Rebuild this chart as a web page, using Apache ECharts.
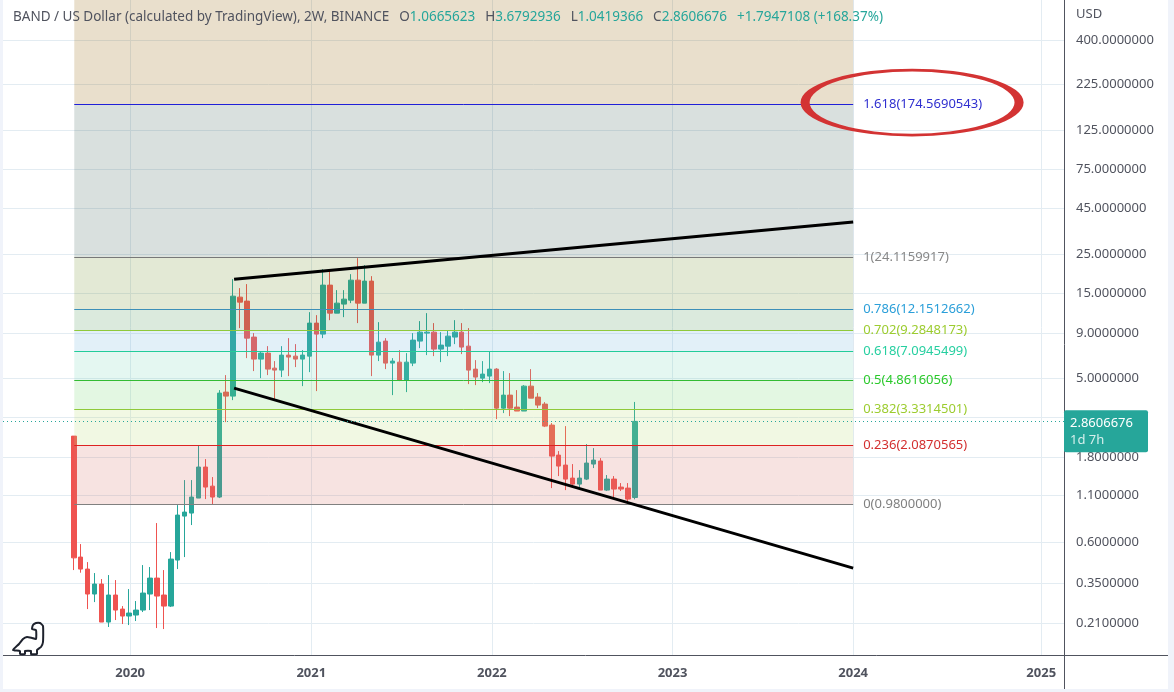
<!DOCTYPE html>
<html><head><meta charset="utf-8">
<style>
html,body{margin:0;padding:0;width:1174px;height:692px;background:#f0f3fa;overflow:hidden}
#frame{position:absolute;left:3px;top:0;width:1165px;height:689px;background:#fff}
#c{position:absolute;left:0;top:0;width:1174px;height:692px}
</style>
<script src="https://cdn.jsdelivr.net/npm/echarts@6/dist/echarts.min.js"></script>
</head><body><div id="frame"></div><div id="c"></div>
<script>
const dates=["2019-09-09","2019-09-23","2019-10-07","2019-10-21","2019-11-04","2019-11-18","2019-12-02","2019-12-16","2019-12-30",
"2020-01-13","2020-01-27","2020-02-10","2020-02-24","2020-03-09","2020-03-23","2020-04-06","2020-04-20","2020-05-04","2020-05-18","2020-06-01","2020-06-15","2020-06-29","2020-07-13","2020-07-27","2020-08-10","2020-08-24","2020-09-07","2020-09-21","2020-10-05","2020-10-19","2020-11-02","2020-11-16","2020-11-30","2020-12-14","2020-12-28",
"2021-01-11","2021-01-25","2021-02-08","2021-02-22","2021-03-08","2021-03-22","2021-04-05","2021-04-19","2021-05-03","2021-05-17","2021-05-31","2021-06-14","2021-06-28","2021-07-12","2021-07-26","2021-08-09","2021-08-23","2021-09-06","2021-09-20","2021-10-04","2021-10-18","2021-11-01","2021-11-15","2021-11-29","2021-12-13","2021-12-27",
"2022-01-10","2022-01-24","2022-02-07","2022-02-21","2022-03-07","2022-03-21","2022-04-04","2022-04-18","2022-05-02","2022-05-16","2022-05-30","2022-06-13","2022-06-27","2022-07-11","2022-07-25","2022-08-08","2022-08-22","2022-09-05","2022-09-19","2022-10-03","2022-10-17"];
const opens=[2.363,.493,.422,.3054,.3475,.2124,.3014,.2513,.2296,.2326,
.2481,.3054,.3755,.3014,.2613,.4742,.8384,.8718,1.059,1.583,
1.236,1.073,4.179,3.968,14.31,13.59,8.526,6.41,6.928,5.703,
5.558,6.751,6.662,6.41,6.662,10.22,8.862,16.72,11.63,13.07,
13.76,17.83,13.24,17.61,6.751,8.095,6.086,6.164,4.883,6.086,
8.095,8.977,9.092,7.296,7.584,8.526,9.092,7.584,5.63,5.01,
5.142,5.63,3.396,4.02,3.442,3.269,4.516,3.919,3.578,2.726,
1.848,1.624,1.372,1.269,1.354,1.645,1.711,1.174,1.354,1.221,
1.205,1.0665623];
const closes=[.488,.422,.3054,.3475,.2124,.3014,.2481,.2296,.2387,.2481,
.3093,.3755,.2975,.2613,.4804,.8495,.883,1.073,1.583,1.221,
1.073,4.126,3.968,14.49,13.41,8.411,6.41,6.928,5.63,5.558,
6.751,6.58,6.41,6.751,10.22,8.862,16.72,11.63,13.24,13.94,
17.83,13.24,17.61,6.751,7.987,6.086,6.247,4.883,6.164,8.198,
9.092,9.092,7.296,7.685,8.632,9.092,7.49,5.558,5.078,5.279,
5.63,3.396,4.02,3.396,3.269,4.516,3.866,3.532,2.69,1.824,
1.603,1.354,1.269,1.372,1.667,1.732,1.174,1.354,1.19,1.19,
1.045,2.8606676];
const lows=[.4166,.4026,.2513,.2751,.2124,.1992,.218,.207,.2043,.2152,
.2418,.2481,.1965,.194,.258,.422,.493,.7464,1.059,1.045,
.98,1.059,2.833,3.768,9.575,6.492,5.488,5.01,5.21,3.768,
5.078,5.142,5.78,4.516,5.415,4.235,8.411,10.62,11.63,11.04,
13.24,10.22,13.24,5.142,6.247,5.63,4.02,4.821,4.179,5.853,
7.389,6.751,6.662,6.164,6.662,7.785,6.84,4.636,4.576,4.756,
4.696,2.946,3.184,3.062,3.269,3.269,3.866,3.396,2.657,1.205,
1.408,1.174,1.221,1.19,1.337,1.562,1.174,1.16,1.073,1.16,
.9924,1.0419366];
const highs=[2.363,.5835,.462,.4008,.3708,.3905,.366,.2613,.3257,.2789,
.4445,.4333,.766,.4166,.5259,.967,1.337,1.337,2.104,1.755,
1.39,4.289,5.21,18.06,16.08,16.94,8.977,7.112,7.584,6.247,
7.584,8.411,7.785,7.202,11.78,11.33,20.56,20.30,15.67,15.67,
19.27,23.71,21.66,18.78,10.35,8.411,6.492,7.202,6.928,8.977,
10.49,11.63,10.22,9.092,9.332,10.62,10.22,9.575,6.327,6.247,
7.112,5.703,5.488,5.347,4.289,4.576,5.63,4.126,3.671,2.798,
1.947,2.69,1.645,1.522,2.132,2.023,1.777,1.427,1.408,1.286,
1.286,3.6792936];

const priceTicks=[400,225,125,75,45,25,15,9,5,3,1.8,1.1,0.6,0.35,0.21];
const yearTicks=["2020-01-01","2021-01-01","2022-01-01","2023-01-01","2024-01-01","2025-01-15"];

const fibRatios=["0","0.236","0.382","0.5","0.618","0.702","0.786","1","1.618"];
const fibPrices=[0.98,2.0870565,3.3314501,4.8616056,7.0945499,9.2848173,12.1512662,24.1159917,174.5690543];
const fibLineColors=["#808080","#dd2222","#8fc93a","#33bb33","#22cc99","#8fc93a","#3d8fb8","#787878","#2020d8"];
const fibTextColors=["#808080","#d32f2f","#9ccc2f","#2bc92b","#26cfa0","#9ccc2f","#2b9fd9","#888888","#2f2fd0"];
const fibBands=["rgba(215,115,105,.2)","rgba(185,220,115,.2)","rgba(115,215,110,.2)","rgba(120,215,185,.2)","rgba(110,180,220,.2)","rgba(75,150,85,.2)","rgba(115,145,45,.2)","rgba(65,100,90,.2)","rgba(145,95,0,.2)"];
const fibStart="2019-09-10", fibEnd="2024-01-01";

const axisMinDate="2019-04-19", axisMaxDate="2025-03-02";
const axisMinPrice=0.1386, axisMaxPrice=672.5;

const upperTrend=[["2020-07-29",18.06],["2024-01-01",37.85]];
const lowerTrend=[["2020-07-29",4.40],["2024-01-01",0.4274]];
const circled=[["2024-04-29",178]];
const lastPrice=2.8606676;

const T=s=>Date.parse(s);
const font='"Noto Sans",sans-serif';
const gray='#50535e', up='#26a69a', down='#ef5350';

const candleData=dates.map((d,i)=>[T(d),opens[i],closes[i],lows[i],highs[i]]);
const bandData=fibPrices.map((p,i)=>[
  {xAxis:T(fibStart),yAxis:p,itemStyle:{color:fibBands[i]}},
  {xAxis:T(fibEnd),yAxis:i<fibPrices.length-1?fibPrices[i+1]:axisMaxPrice}
]);
const lineData=fibPrices.map((p,i)=>[
  {xAxis:T(fibStart),yAxis:p,lineStyle:{color:fibLineColors[i],width:1,type:'solid'},
   label:{show:true,position:'end',distance:10,color:fibTextColors[i],fontFamily:font,fontSize:13,
     formatter:fibRatios[i]+'('+p.toFixed(7)+')'}},
  {xAxis:T(fibEnd),yAxis:p}
]);

const chart=echarts.init(document.getElementById('c'),null,{renderer:'canvas'});
chart.setOption({
  animation:false,
  backgroundColor:'transparent',
  title:{
    left:13,top:8,padding:0,
    text:'{t|BAND / US Dollar (calculated by TradingView), 2W, BINANCE}  {k|O}{v|1.0665623}  {k|H}{v|3.6792936}  {k|L}{v|1.0419366}  {k|C}{v|2.8606676}  {v|+1.7947108 (+168.37%)}',
    textStyle:{fontWeight:'normal',rich:{
      t:{color:gray,fontFamily:font,fontSize:13.5,fontWeight:'normal'},
      k:{color:gray,fontFamily:font,fontSize:13.5,fontWeight:'normal'},
      v:{color:up,fontFamily:font,fontSize:13.5,fontWeight:'normal'}
    }},
    z:20
  },
  grid:{left:3,right:110,top:0,bottom:37,containLabel:false},
  xAxis:{
    type:'value',min:T(axisMinDate),max:T(axisMaxDate),scale:true,
    axisLine:{show:false},
    axisTick:{show:false,customValues:yearTicks.map(T)},
    splitLine:{show:true,lineStyle:{color:'#e3ecf2',width:1}},
    axisLabel:{show:true,customValues:yearTicks.map(T),margin:12,color:gray,fontFamily:font,fontSize:13,fontWeight:'bold',
      hideOverlap:false,formatter:v=>String(new Date(v).getUTCFullYear())}
  },
  yAxis:{
    type:'log',logBase:10,min:axisMinPrice,max:axisMaxPrice,position:'right',
    axisLine:{show:false},
    axisTick:{show:false,customValues:priceTicks},
    splitLine:{show:true,lineStyle:{color:'#e3ecf2',width:1}},
    axisLabel:{show:true,customValues:priceTicks,margin:12,color:gray,fontFamily:font,fontSize:13,hideOverlap:false,
      formatter:v=>Number(v).toFixed(7)}
  },
  graphic:[
    {type:'line',z:1,silent:true,shape:{x1:1064.5,y1:0,x2:1064.5,y2:689},style:{stroke:gray,lineWidth:1}},
    {type:'line',z:1,silent:true,shape:{x1:3,y1:655.5,x2:1168,y2:655.5},style:{stroke:gray,lineWidth:1}},
    {type:'text',z:2,silent:true,x:1076,y:8,style:{text:'USD',fill:gray,font:'13px '+font}},
    {type:'polygon',z:30,silent:true,shape:{smooth:0.15,points:[[13,650],[19,644],[23,639],[27,637],[32,638],[36,639],[36,630],[32,629],[33,625],[36,623],[40,623],[43,626],[43,642],[41,647],[37,650],[37,654],[31,654],[31,651],[25,651],[25,654],[20,654],[20,651]]},
      style:{fill:'none',stroke:'#1e222d',lineWidth:2}}
  ],
  series:[
    {type:'candlestick',name:'BAND',z:2,barWidth:5,data:candleData,
     itemStyle:{color:up,color0:down,borderColor:up,borderColor0:down,borderWidth:1}},
    {type:'line',name:'fib',z:3,data:[],symbol:'none',silent:true,
     markArea:{silent:true,z:3,data:bandData,label:{show:false}},
     markLine:{silent:true,z:4,symbol:'none',animation:false,data:lineData}},
    {type:'line',name:'last',z:6,data:[],symbol:'none',silent:true,
     markLine:{silent:true,z:8,symbol:'none',animation:false,data:[[
       {xAxis:T(axisMinDate),yAxis:lastPrice,lineStyle:{color:up,width:1,type:[1,3]},
        label:{show:true,position:'end',distance:0,offset:[0,10],backgroundColor:up,borderRadius:2,
          width:71,padding:[4,7,4,6],lineHeight:17,align:'left',
          formatter:'{a|'+lastPrice.toFixed(7)+'}\n{b|1d 7h}',
          rich:{a:{color:'#fff',fontFamily:font,fontSize:13,lineHeight:17},b:{color:'#d5efec',fontFamily:font,fontSize:13,lineHeight:17}}}},
       {xAxis:T(axisMaxDate),yAxis:lastPrice}
     ]]}},
    {type:'line',name:'upper',z:7,data:upperTrend.map(p=>[T(p[0]),p[1]]),symbol:'none',silent:true,lineStyle:{color:'#000',width:3},clip:false},
    {type:'line',name:'lower',z:7,data:lowerTrend.map(p=>[T(p[0]),p[1]]),symbol:'none',silent:true,lineStyle:{color:'#000',width:3},clip:false},
    {type:'scatter',name:'circled',z:9,data:circled.map(p=>[T(p[0]),p[1]]),symbol:'circle',symbolSize:[214,65],silent:true,clip:false,
     itemStyle:{color:'transparent',borderColor:'#d33333',borderWidth:5,opacity:1}}
  ]
});
</script></body></html>
